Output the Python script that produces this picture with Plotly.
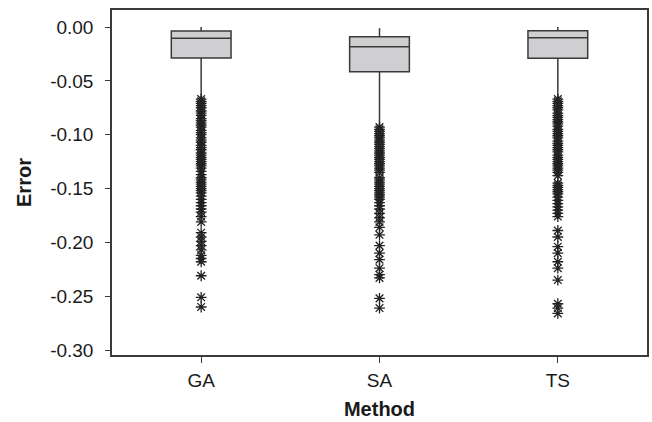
import plotly.graph_objects as go

methods = ["GA", "SA", "TS"]
q1 = [-0.0288, -0.0415, -0.0290]
median = [-0.0105, -0.0183, -0.0100]
q3 = [-0.0037, -0.0090, -0.0034]
lower_whisker = [-0.066, -0.092, -0.066]
upper_whisker = [0.0000, -0.0012, 0.0000]

ga_outliers = [-0.067, -0.069, -0.071, -0.073, -0.075, -0.078, -0.080, -0.082,
               -0.085, -0.087, -0.089, -0.091, -0.093, -0.096, -0.098, -0.100,
               -0.103, -0.105, -0.107, -0.110, -0.112, -0.114, -0.117, -0.119,
               -0.121, -0.123, -0.125, -0.127, -0.129, -0.131, -0.134, -0.137,
               -0.140, -0.142, -0.144, -0.146, -0.148, -0.150, -0.152, -0.154,
               -0.157, -0.160, -0.163, -0.166, -0.169, -0.172, -0.176, -0.181,
               -0.191, -0.195, -0.199, -0.203, -0.207, -0.212, -0.215, -0.218,
               -0.231, -0.251, -0.260]
sa_outliers = [-0.093, -0.095, -0.097, -0.099, -0.101, -0.103, -0.105, -0.107,
               -0.109, -0.111, -0.113, -0.115, -0.117, -0.119, -0.121, -0.123,
               -0.125, -0.127, -0.129, -0.131, -0.133, -0.135, -0.140, -0.142,
               -0.144, -0.146, -0.148, -0.150, -0.152, -0.154, -0.156, -0.158,
               -0.160, -0.163, -0.166, -0.169, -0.173, -0.177, -0.181, -0.186,
               -0.193, -0.203, -0.210, -0.216, -0.224, -0.230, -0.233, -0.252,
               -0.261]
ts_outliers = [-0.067, -0.069, -0.071, -0.073, -0.075, -0.077, -0.080, -0.082,
               -0.084, -0.086, -0.088, -0.090, -0.092, -0.095, -0.097, -0.099,
               -0.101, -0.103, -0.106, -0.108, -0.110, -0.112, -0.114, -0.116,
               -0.119, -0.121, -0.123, -0.125, -0.127, -0.129, -0.131, -0.133,
               -0.135, -0.138, -0.145, -0.147, -0.149, -0.151, -0.153, -0.155,
               -0.158, -0.161, -0.164, -0.167, -0.170, -0.173, -0.176, -0.189,
               -0.195, -0.204, -0.210, -0.218, -0.224, -0.235, -0.257, -0.261,
               -0.266]

fig = go.Figure()
fig.add_trace(go.Box(
    x=methods, q1=q1, median=median, q3=q3,
    lowerfence=lower_whisker, upperfence=upper_whisker,
    width=0.335, whiskerwidth=0,
    fillcolor="#cfcfd1", line=dict(color="#3a3a3a", width=1.5),
    boxpoints=False, showlegend=False,
))

ox = ["GA"] * len(ga_outliers) + ["SA"] * len(sa_outliers) + ["TS"] * len(ts_outliers)
oy = ga_outliers + sa_outliers + ts_outliers
fig.add_trace(go.Scatter(
    x=ox, y=oy, mode="markers", showlegend=False,
    marker=dict(symbol="asterisk-open", size=9,
                line=dict(color="#222222", width=1.3), color="#222222"),
))

font = dict(family="Liberation Sans, Arial, sans-serif", size=19, color="#1a1a1a")
fig.update_layout(
    width=652, height=422,
    margin=dict(l=112, r=5, t=10, b=67),
    paper_bgcolor="white", plot_bgcolor="white",
    font=font,
)
fig.update_xaxes(
    type="category", categoryorder="array", categoryarray=methods,
    range=[-0.5, 2.5], automargin=False,
    showline=True, mirror=True, linecolor="#3a3a3a", linewidth=1.5,
    ticks="outside", ticklen=6, tickcolor="#3a3a3a", tickwidth=1,
    showgrid=False, zeroline=False, ticklabelstandoff=1,
    title=dict(text="<b>Method</b>", font=dict(size=20), standoff=12),
)
fig.update_yaxes(
    range=[-0.3046, 0.0158], automargin=False,
    tickvals=[0.0, -0.05, -0.10, -0.15, -0.20, -0.25, -0.30],
    ticktext=["0.00", "-0.05", "-0.10", "-0.15", "-0.20", "-0.25", "-0.30"],
    showline=True, mirror=True, linecolor="#3a3a3a", linewidth=1.5,
    ticks="outside", ticklen=5, tickcolor="#3a3a3a", tickwidth=1,
    showgrid=False, zeroline=False, ticklabelstandoff=8,
    title=dict(text="<b>Error</b>", font=dict(size=20), standoff=13),
)
fig.write_html(
    "out.html",
    config={"displayModeBar": False},
    post_script=("document.body.style.margin='0';"
                 "document.body.style.overflow='hidden';"
                 "document.documentElement.style.overflow='hidden';"),
)
